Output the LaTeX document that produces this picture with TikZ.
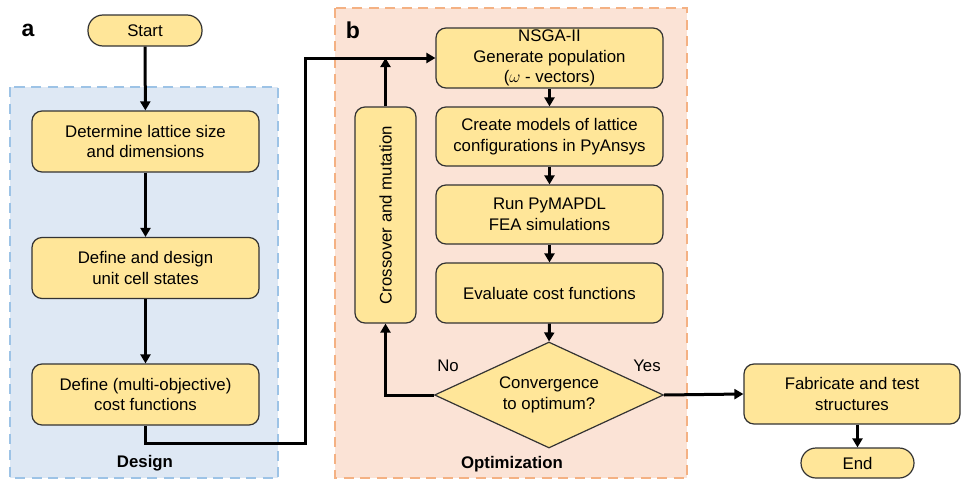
\documentclass[tikz,border=0pt]{standalone}
\usepackage{fontspec}
\setmainfont{Liberation Sans}
\usetikzlibrary{arrows.meta,shapes.geometric}
\definecolor{boxfill}{HTML}{FFE699}
\definecolor{boxline}{HTML}{333333}
\definecolor{designfill}{HTML}{DEE8F4}
\definecolor{designline}{HTML}{9DC3E6}
\definecolor{optfill}{HTML}{FBE3D6}
\definecolor{optline}{HTML}{F4B183}
\newcommand{\txtfont}{\fontsize{16.8}{20.5}\selectfont}
\tikzset{
  proc/.style={draw=boxline, fill=boxfill, line width=1.2pt, rounded corners=10pt, align=center,
    font=\txtfont, inner sep=0pt},
  pill/.style={draw=boxline, fill=boxfill, line width=1.2pt, rounded corners=15pt, align=center,
    font=\txtfont, inner sep=0pt},
  decide/.style={draw=boxline, fill=boxfill, line width=1.2pt, diamond, aspect=2.16, align=center,
    font=\txtfont, inner sep=0pt},
  flow/.style={line width=3pt, -{Triangle[length=9pt,width=10pt]}},
  panel/.style={dash pattern=on 10pt off 6.5pt, line width=2.8pt},
  lbl/.style={font=\txtfont},
  bigl/.style={font=\fontsize{23}{26}\selectfont\bfseries},
  boldl/.style={font=\fontsize{16.8}{20}\selectfont\bfseries},
}
\begin{document}
\begin{tikzpicture}[x=1pt,y=-1pt]
\useasboundingbox (0,0) rectangle (962,482);
% panels
\draw[panel, draw=designline, fill=designfill] (10,87) rectangle (278,478);
\draw[panel, draw=optline, fill=optfill] (335,8) rectangle (687,478);
\node[bigl] (la) at (28,30) {a};
\node[bigl] (lb) at (353,30) {b};
\node[boldl] (ldesign) at (145,463) {Design};
\node[boldl] (lopt) at (512,464) {Optimization};
% nodes
\node[pill, minimum width=114pt, minimum height=31pt] (start) at (145,30.5) {Start};
\node[proc, minimum width=227pt, minimum height=61pt] (d1) at (145.5,141.5) {Determine lattice size\\and dimensions};
\node[proc, minimum width=227pt, minimum height=61pt] (d2) at (145.5,268) {Define and design\\unit cell states};
\node[proc, minimum width=227pt, minimum height=61pt] (d3) at (145.5,394.5) {Define (multi-objective)\\cost functions};
\node[proc, minimum width=227pt, minimum height=60pt] (o1) at (549.5,58) {NSGA-II\\Generate population\\($\omega$ - vectors)};
\node[proc, minimum width=227pt, minimum height=59pt] (o2) at (549.5,136.5) {Create models of lattice\\configurations in PyAnsys};
\node[proc, minimum width=227pt, minimum height=59pt] (o3) at (549.5,214.5) {Run PyMAPDL\\FEA simulations};
\node[proc, minimum width=227pt, minimum height=60pt] (o4) at (549.5,293) {Evaluate cost functions};
\node[decide, minimum width=229pt, minimum height=106pt] (dec) at (549,395) {Convergence\\to optimum?};
\node[proc, minimum width=61pt, minimum height=216pt] (cm) at (385.5,215) {};
\node[font=\txtfont, rotate=90] (cmt) at (cm.center) {Crossover and mutation};
\node[proc, minimum width=216pt, minimum height=60pt] (fab) at (852,394) {Fabricate and test\\structures};
\node[pill, minimum width=113pt, minimum height=30pt] (end) at (857.5,463) {End};
\node[lbl] (no) at (448,366) {No};
\node[lbl] (yes) at (647,366) {Yes};
% coordinates
\coordinate (c1) at (145,443);
\coordinate (c2) at (305,443);
\coordinate (c3) at (305,58);
\coordinate (j) at (385.5,58);
\coordinate (c4) at (385.5,395);
% connectors
\draw[flow] (start) -- (d1);
\draw[flow] (d1) -- (d2);
\draw[flow] (d2) -- (d3);
\draw[flow] (d3.south -| c1) -- (c1) -- (c2) -- (c3) -- (o1.west);
\draw[flow] (o1) -- (o2);
\draw[flow] (o2) -- (o3);
\draw[flow] (o3) -- (o4);
\draw[flow] (o4.south) -- (dec.north);
\draw[flow] (dec.west) -- (c4) -- (cm.south);
\draw[flow] (cm.north) -- (j);
\draw[flow] (dec.east) -- (fab.west);
\draw[flow] (fab.south -| end.north) -- (end.north);
\end{tikzpicture}
\end{document}
